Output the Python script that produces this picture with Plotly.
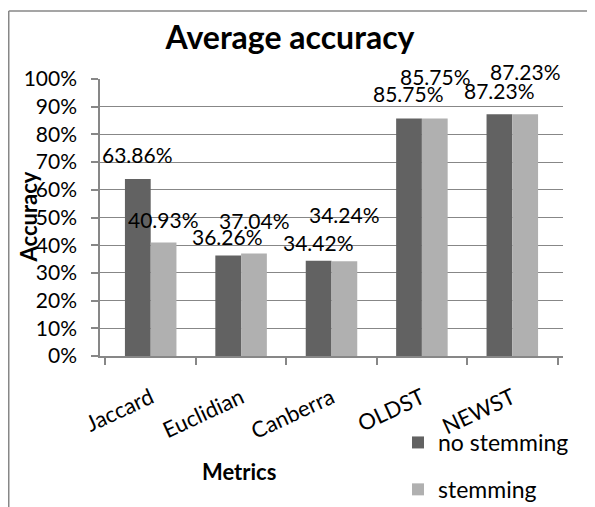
import plotly.graph_objects as go

categories = ["Jaccard", "Euclidian", "Canberra", "OLDST", "NEWST"]
no_stemming = [0.6386, 0.3626, 0.3442, 0.8575, 0.8723]
stemming = [0.4093, 0.3704, 0.3424, 0.8575, 0.8723]
# vertical positions of the (manually placed) data labels, in axis units
label_y_no_stemming = [0.729, 0.430, 0.408, 0.948, 0.958]
label_y_stemming = [0.494, 0.490, 0.512, 1.010, 1.026]
y_ticks = [i / 10 for i in range(11)]

# page is drawn with an 8px body margin; work in page pixels and convert
OFF = 8
W, H = 587, 499
PL, PR, PT, PB = 100, 563, 79, 356  # plot area in page pixels
L, T = PL - OFF, PT - OFF
R, B = W - (PR - OFF), H - (PB - OFF)
PW, PH = PR - PL, PB - PT
FONT = "Lato"
DARK, LIGHT, GRID = "#626262", "#b0b0b0", "#878787"


def px(x):
    return (x - PL) / PW


def py(y):
    return (PB - y) / PH


fig = go.Figure()
fig.add_trace(go.Bar(x=categories, y=no_stemming, name="no stemming",
                     marker=dict(color=DARK, line=dict(width=0)), legendgroup="a"))
fig.add_trace(go.Bar(x=categories, y=stemming, name="stemming",
                     marker=dict(color=LIGHT, line=dict(width=0)), legendgroup="b"))

annotations = []
bar_px = PW / len(categories) * (1 - 0.43) / 2
for i, c in enumerate(categories):
    annotations.append(dict(x=c, y=label_y_no_stemming[i], xref="x", yref="paper",
                            text=f"{no_stemming[i]*100:.2f}%", showarrow=False,
                            xshift=-bar_px / 2, yanchor="middle",
                            font=dict(family=FONT, size=21, color="#000")))
    annotations.append(dict(x=c, y=label_y_stemming[i], xref="x", yref="paper",
                            text=f"{stemming[i]*100:.2f}%", showarrow=False,
                            xshift=bar_px / 2, yanchor="middle",
                            font=dict(family=FONT, size=21, color="#000")))

annotations.append(dict(x=px(28), y=0.5, xref="paper", yref="paper", text="<b>Accuracy</b>",
                        textangle=-90, showarrow=False, xanchor="center", yanchor="middle",
                        font=dict(family=FONT, size=22, color="#000")))
annotations.append(dict(x=px(239), y=py(471), xref="paper", yref="paper", text="<b>Metrics</b>",
                        showarrow=False, xanchor="center", yanchor="middle",
                        font=dict(family=FONT, size=22, color="#000")))

shapes = [
    dict(type="line", xref="paper", yref="paper", x0=px(OFF + 0.75), x1=px(OFF + W + 5),
         y0=py(11), y1=py(11), line=dict(color=GRID, width=1.5)),
    dict(type="line", xref="paper", yref="paper", x0=px(OFF + 0.75), x1=px(OFF + 0.75),
         y0=py(11), y1=py(OFF + H + 5), line=dict(color=GRID, width=1.5)),
]

fig.update_layout(
    width=W, height=H,
    margin=dict(l=L, r=R, t=T, b=B, autoexpand=False),
    paper_bgcolor="white", plot_bgcolor="white",
    barmode="group", bargap=0.43, bargroupgap=0,
    title=dict(text="<b>Average accuracy</b>", x=(290 - OFF) / W, xref="container",
               xanchor="center", y=1 - (38 - OFF) / H, yref="container", yanchor="middle",
               font=dict(family=FONT, size=32, color="#000")),
    font=dict(family=FONT, color="#000"),
    xaxis=dict(showline=True, linecolor=GRID, linewidth=1.5, ticks="outside", tickson="boundaries",
               ticklen=7, tickcolor=GRID, tickwidth=1.5, tickangle=-25,
               tickfont=dict(family=FONT, size=22, color="#000"), ticklabelstandoff=19,
               showgrid=False),
    yaxis=dict(range=[0, 1], tickvals=y_ticks, tickformat=".0%", showline=True, linecolor=GRID,
               linewidth=1.5, ticks="outside", ticklen=7, tickcolor=GRID, tickwidth=1.5,
               showgrid=True, gridcolor=GRID, gridwidth=1.3, zeroline=False,
               tickfont=dict(family=FONT, size=21, color="#000"), ticklabelstandoff=10),
    legend=dict(x=px(398), y=py(421), xanchor="left", yanchor="top", traceorder="grouped",
                tracegroupgap=14, font=dict(family=FONT, size=23, color="#000"),
                bgcolor="rgba(0,0,0,0)"),
    annotations=annotations,
    shapes=shapes,
)

fig.write_html("out.html")
